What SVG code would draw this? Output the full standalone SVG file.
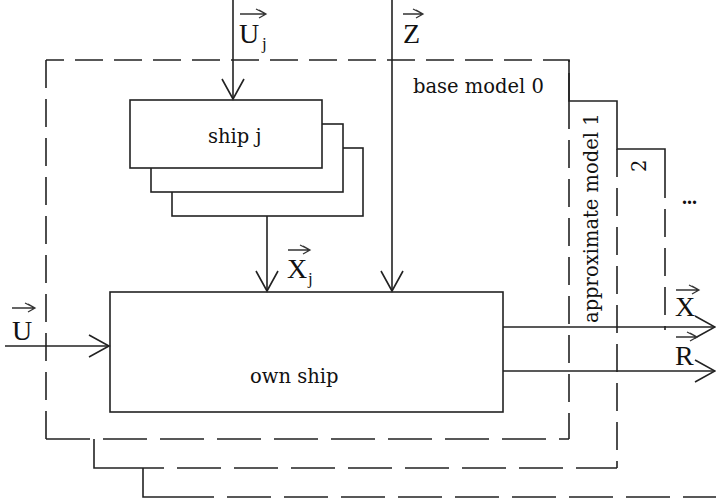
<svg xmlns="http://www.w3.org/2000/svg" width="716" height="502" viewBox="0 0 716 502">
<style>
.ln{fill:none;stroke:#222;stroke-width:1.6}
.dh{fill:none;stroke:#222;stroke-width:1.6;stroke-dasharray:28 11}
.dv{fill:none;stroke:#222;stroke-width:1.6;stroke-dasharray:44 13}
.box{fill:#fff;stroke:#222;stroke-width:1.6}
.t{font-family:"Liberation Serif","Times New Roman",serif;fill:#111}
.lab{font-family:"DejaVu Serif","Liberation Serif",serif;font-size:19.5px;fill:#111}
.v{font-size:28px}
.s{font-size:17px}
.va{fill:none;stroke:#333;stroke-width:1.3}
</style>
<defs>
<marker id="ah" markerUnits="userSpaceOnUse" markerWidth="30" markerHeight="30" viewBox="-25 -15 30 30" refX="0" refY="0" orient="auto">
<path d="M-20,-11 L0,0 L-20,11" fill="none" stroke="#222" stroke-width="1.6"/>
</marker>
</defs>
<g id="frames">
<path class="dh" d="M569,101 V60 H46"/>
<path class="dh" d="M46,60 V439"/>
<path class="dv" d="M46,439 H569"/>
<path class="dh" d="M569,101 V439"/>
<path class="ln" d="M569,60 V101 H617 V149 H665 V170"/>
<path class="ln" d="M94,439 V468 H120"/>
<path class="ln" d="M143,468 V497 H170"/>
<path class="dh" d="M617,149 V468"/>
<path class="dv" d="M120,468 H617"/>
<path class="dh" d="M665,170 V330"/>
<path class="dv" d="M170,497 H716"/>
<text class="lab" x="413" y="93">base model 0</text>
<text class="lab" transform="translate(598,323) rotate(-90)">approximate model 1</text>
<text class="lab" transform="translate(646,172) rotate(-90)">2</text>
<text class="t" x="682" y="204" font-size="20" font-weight="bold">...</text>
</g>
<g id="shipj">
<rect class="box" x="172" y="148" width="191" height="68"/>
<rect class="box" x="151" y="124" width="192" height="68"/>
<rect class="box" x="130" y="100" width="192" height="68"/>
<text class="lab" x="208" y="143">ship j</text>
</g>
<g id="ownship">
<rect class="box" x="110" y="292" width="393" height="120"/>
<text class="lab" x="250" y="383">own ship</text>
</g>
<g id="connectors">
<path class="ln" d="M233,0 V99" marker-end="url(#ah)"/>
<path class="ln" d="M392,0 V291" marker-end="url(#ah)"/>
<path class="ln" d="M267,216 V291" marker-end="url(#ah)"/>
<path class="ln" d="M5,346 H109" marker-end="url(#ah)"/>
<path class="ln" d="M503,327 H715" marker-end="url(#ah)"/>
<path class="ln" d="M503,371 H715" marker-end="url(#ah)"/>
</g>
<g id="labels">
<text class="t v" x="239" y="43">U</text><text class="t s" x="262" y="49">j</text>
<path class="va" d="M240,14 H266 M259,10 L266,14 L259,18 M256,9 L264,13"/>
<text class="t v" x="403" y="43">Z</text>
<path class="va" d="M403,14 H423 M416,10 L423,14 L416,18 M413,9 L421,13"/>
<text class="t v" x="287" y="278">X</text><text class="t s" x="308" y="284">j</text>
<path class="va" d="M288,250 H310 M303,246 L310,250 L303,254 M300,245 L308,249"/>
<text class="t v" x="12" y="340">U</text>
<path class="va" d="M12,308 H35 M28,304 L35,308 L28,312 M25,303 L33,307"/>
<text class="t v" x="675" y="316">X</text>
<path class="va" d="M676,290 H699 M692,286 L699,290 L692,294 M689,285 L697,289"/>
<text class="t v" x="675" y="365">R</text>
<path class="va" d="M676,337 H697 M690,333 L697,337 L690,341 M687,332 L695,336"/>
</g>
</svg>
